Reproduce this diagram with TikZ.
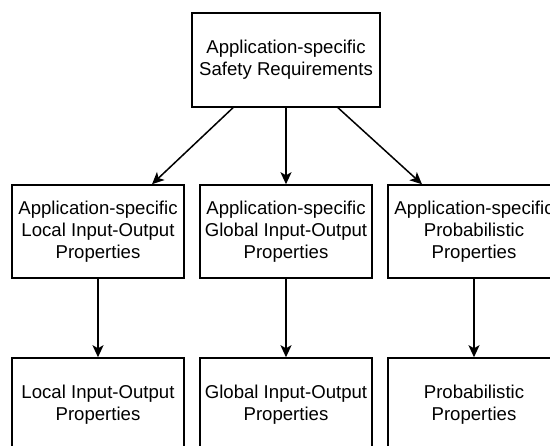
\documentclass[tikz,border=0pt]{standalone}
\usepackage{fontspec}
\setmainfont{Liberation Sans}
\usetikzlibrary{arrows.meta}

\begin{document}
\begin{tikzpicture}[x=1pt, y=-1pt, line width=1.5pt, >={Stealth[length=12pt, width=11pt, inset=3pt]},
        every node/.style={draw, rectangle, minimum width=172pt, minimum height=93pt, align=center, inner sep=0pt, font=\fontsize{18.6}{22.3}\selectfont}]
            \useasboundingbox (0,0) rectangle (550,446);
            \clip (0,0) rectangle (550,446);

            \node[minimum width=188pt, minimum height=94pt] (safety) at (286,60) {Application-specific\\Safety Requirements};
            \node (apLocal) at (98,231.5) {Application-specific\\Local Input-Output\\Properties};
            \node (apGlobal) at (286,231.5) {Application-specific\\Global Input-Output\\Properties};
            \node (apProb) at (474,231.5) {Application-specific\\Probabilistic\\Properties};
            \node (local) at (98,404.5) {Local Input-Output\\Properties};
            \node (global) at (286,404.5) {Global Input-Output\\Properties};
            \node (prob) at (474,404.5) {Probabilistic\\Properties};

            \draw[->] ([xshift=-53pt]safety.south) -- ([xshift=54pt]apLocal.north);
            \draw[->] (safety) -- (apGlobal);
            \draw[->] ([xshift=52pt]safety.south) -- ([xshift=-52pt]apProb.north);
            \draw[->] (apLocal) -- (local);
            \draw[->] (apGlobal) -- (global);
            \draw[->] (apProb) -- (prob);
        \end{tikzpicture}
\end{document}
